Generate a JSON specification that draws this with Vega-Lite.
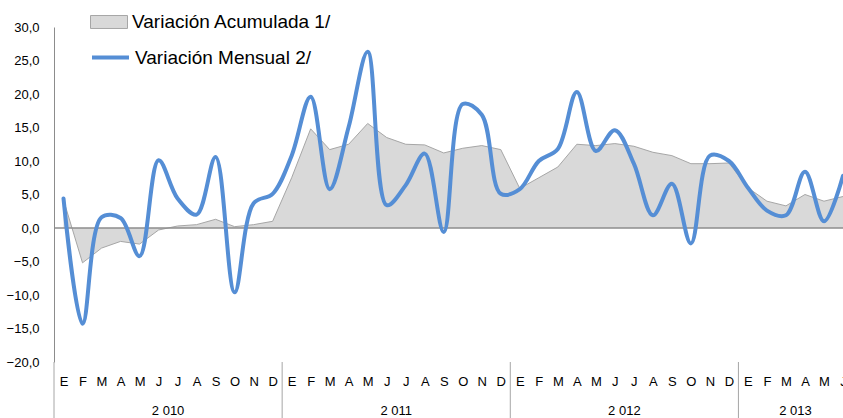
{
  "$schema": "https://vega.github.io/schema/vega-lite/v6.json",
  "autosize": {"type": "none"},
  "width": 789,
  "height": 335,
  "padding": {"left": 54, "top": 27, "right": 0, "bottom": 56},
  "background": "white",
  "config": {
    "font": "Liberation Sans",
    "view": {"stroke": null},
    "axis": {"labelOverlap": false, "labelBound": false, "labelFlush": false}
  },
  "datasets": {
    "series": [
      {"i": 0, "mon": 4.4, "cum": 4.2},
      {"i": 1, "mon": -14.3, "cum": -5.2},
      {"i": 2, "mon": 1.6, "cum": -3.0},
      {"i": 3, "mon": 1.5, "cum": -2.0},
      {"i": 4, "mon": -4.2, "cum": -2.4},
      {"i": 5, "mon": 10.1, "cum": -0.3},
      {"i": 6, "mon": 4.4, "cum": 0.3},
      {"i": 7, "mon": 2.0, "cum": 0.5},
      {"i": 8, "mon": 10.6, "cum": 1.3},
      {"i": 9, "mon": -9.6, "cum": 0.2},
      {"i": 10, "mon": 3.7, "cum": 0.5},
      {"i": 11, "mon": 5.1, "cum": 1.0},
      {"i": 12, "mon": 10.8, "cum": 7.5},
      {"i": 13, "mon": 19.6, "cum": 14.8},
      {"i": 14, "mon": 5.8, "cum": 11.7},
      {"i": 15, "mon": 15.1, "cum": 12.5},
      {"i": 16, "mon": 26.3, "cum": 15.6},
      {"i": 17, "mon": 3.4, "cum": 13.5},
      {"i": 18, "mon": 6.4, "cum": 12.5},
      {"i": 19, "mon": 11.1, "cum": 12.4},
      {"i": 20, "mon": -0.6, "cum": 11.2},
      {"i": 21, "mon": 18.5, "cum": 11.9},
      {"i": 22, "mon": 16.9, "cum": 12.3},
      {"i": 23, "mon": 5.1, "cum": 11.7},
      {"i": 24, "mon": 5.8, "cum": 5.9},
      {"i": 25, "mon": 10.0, "cum": 7.5},
      {"i": 26, "mon": 11.8, "cum": 9.1},
      {"i": 27, "mon": 20.3, "cum": 12.5},
      {"i": 28, "mon": 11.5, "cum": 12.3},
      {"i": 29, "mon": 14.6, "cum": 12.6},
      {"i": 30, "mon": 9.6, "cum": 12.2},
      {"i": 31, "mon": 1.9, "cum": 11.3},
      {"i": 32, "mon": 6.6, "cum": 10.8},
      {"i": 33, "mon": -2.3, "cum": 9.6},
      {"i": 34, "mon": 10.8, "cum": 9.6},
      {"i": 35, "mon": 10.0, "cum": 9.7},
      {"i": 36, "mon": 6.0, "cum": 6.0},
      {"i": 37, "mon": 2.6, "cum": 4.0},
      {"i": 38, "mon": 1.9, "cum": 3.3},
      {"i": 39, "mon": 8.4, "cum": 5.0},
      {"i": 40, "mon": 1.0, "cum": 4.0},
      {"i": 41, "mon": 7.8, "cum": 4.7}
    ],
    "years": [
      {"c": 5.5, "year": "2 010"},
      {"c": 17.5, "year": "2 011"},
      {"c": 29.5, "year": "2 012"},
      {"c": 38.5, "year": "2 013"}
    ],
    "bounds": [
      {"b": -0.5},
      {"b": 11.5},
      {"b": 23.5},
      {"b": 35.5}
    ]
  },
  "layer": [
    {
      "data": {"name": "series"},
      "mark": {"type": "area", "interpolate": "linear"},
      "encoding": {
        "x": {
          "field": "i", "type": "quantitative",
          "scale": {"domain": [-0.5, 41], "nice": false, "zero": false},
          "axis": {
            "title": null,
            "values": [0,1,2,3,4,5,6,7,8,9,10,11,12,13,14,15,16,17,18,19,20,21,22,23,24,25,26,27,28,29,30,31,32,33,34,35,36,37,38,39,40,41],
            "labelExpr": "['E','F','M','A','M','J','J','A','S','O','N','D'][datum.value % 12]",
            "domain": false, "ticks": false, "grid": false,
            "labelPadding": 13, "labelFontSize": 13, "labelColor": "#000000",
            "labelFlush": false, "labelOverlap": false, "labelBound": false,
            "labelFont": "Liberation Sans"
          }
        },
        "y": {
          "field": "cum", "type": "quantitative",
          "scale": {"domain": [-20, 30], "nice": false, "zero": false},
          "axis": {
            "title": null,
            "values": [-20, -15, -10, -5, 0, 5, 10, 15, 20, 25, 30],
            "labelExpr": "replace(format(datum.value, '.1f'), '.', ',')",
            "ticks": false, "grid": false,
            "domainColor": "#8c8c8c", "domainWidth": 1,
            "labelPadding": 15, "labelFontSize": 13, "labelColor": "#000000",
            "labelOverlap": false, "labelFlush": false, "labelBound": false,
            "labelFont": "Liberation Sans"
          }
        },
        "y2": {"datum": 0},
        "fill": {
          "datum": "Variación Acumulada 1/",
          "scale": {"range": ["#d9d9d9"]},
          "legend": {
            "orient": "none", "legendX": 36, "legendY": -24,
            "title": null, "padding": 0,
            "symbolType": "M-1,-0.35L1,-0.35L1,0.35L-1,0.35Z",
            "symbolSize": 1369,
            "symbolStrokeColor": "#a6a6a6", "symbolStrokeWidth": 1,
            "symbolOpacity": 1,
            "labelFontSize": 19, "labelColor": "#000000", "labelOffset": 4,
            "labelFont": "Liberation Sans", "labelLimit": 400
          }
        }
      }
    },
    {
      "data": {"name": "series"},
      "mark": {"type": "line", "interpolate": "linear", "stroke": "#a6a6a6", "strokeWidth": 1},
      "encoding": {
        "x": {
          "field": "i", "type": "quantitative",
          "axis": {
            "title": null,
            "values": [0,1,2,3,4,5,6,7,8,9,10,11,12,13,14,15,16,17,18,19,20,21,22,23,24,25,26,27,28,29,30,31,32,33,34,35,36,37,38,39,40,41],
            "labelExpr": "['E','F','M','A','M','J','J','A','S','O','N','D'][datum.value % 12]",
            "domain": false, "ticks": false, "grid": false,
            "labelPadding": 13, "labelFontSize": 13, "labelColor": "#000000",
            "labelFlush": false, "labelOverlap": false, "labelBound": false,
            "labelFont": "Liberation Sans"
          }
        },
        "y": {
          "field": "cum", "type": "quantitative",
          "axis": {
            "title": null,
            "values": [-20, -15, -10, -5, 0, 5, 10, 15, 20, 25, 30],
            "labelExpr": "replace(format(datum.value, '.1f'), '.', ',')",
            "ticks": false, "grid": false,
            "domainColor": "#8c8c8c", "domainWidth": 1,
            "labelPadding": 15, "labelFontSize": 13, "labelColor": "#000000",
            "labelOverlap": false, "labelFlush": false, "labelBound": false,
            "labelFont": "Liberation Sans"
          }
        }
      }
    },
    {
      "data": {"values": [{"z": 0}]},
      "mark": {"type": "rule", "color": "#8c8c8c", "strokeWidth": 1.3},
      "encoding": {
        "y": {
          "field": "z", "type": "quantitative",
          "axis": {
            "title": null,
            "values": [-20, -15, -10, -5, 0, 5, 10, 15, 20, 25, 30],
            "labelExpr": "replace(format(datum.value, '.1f'), '.', ',')",
            "ticks": false, "grid": false,
            "domainColor": "#8c8c8c", "domainWidth": 1,
            "labelPadding": 15, "labelFontSize": 13, "labelColor": "#000000",
            "labelOverlap": false, "labelFlush": false, "labelBound": false,
            "labelFont": "Liberation Sans"
          }
        }
      }
    },
    {
      "data": {"name": "bounds"},
      "mark": {"type": "rule", "color": "#a6a6a6", "strokeWidth": 1},
      "encoding": {
        "x": {
          "field": "b", "type": "quantitative",
          "axis": {
            "title": null,
            "values": [0,1,2,3,4,5,6,7,8,9,10,11,12,13,14,15,16,17,18,19,20,21,22,23,24,25,26,27,28,29,30,31,32,33,34,35,36,37,38,39,40,41],
            "labelExpr": "['E','F','M','A','M','J','J','A','S','O','N','D'][datum.value % 12]",
            "domain": false, "ticks": false, "grid": false,
            "labelPadding": 13, "labelFontSize": 13, "labelColor": "#000000",
            "labelFlush": false, "labelOverlap": false, "labelBound": false,
            "labelFont": "Liberation Sans"
          }
        },
        "y": {
          "datum": -20, "type": "quantitative",
          "axis": {
            "title": null,
            "values": [-20, -15, -10, -5, 0, 5, 10, 15, 20, 25, 30],
            "labelExpr": "replace(format(datum.value, '.1f'), '.', ',')",
            "ticks": false, "grid": false,
            "domainColor": "#8c8c8c", "domainWidth": 1,
            "labelPadding": 15, "labelFontSize": 13, "labelColor": "#000000",
            "labelOverlap": false, "labelFlush": false, "labelBound": false,
            "labelFont": "Liberation Sans"
          }
        },
        "y2": {"datum": -28.5}
      }
    },
    {
      "data": {"name": "years"},
      "mark": {"type": "text", "fontSize": 13, "color": "#000000", "baseline": "alphabetic", "align": "center", "font": "Liberation Sans"},
      "encoding": {
        "x": {
          "field": "c", "type": "quantitative",
          "axis": {
            "title": null,
            "values": [0,1,2,3,4,5,6,7,8,9,10,11,12,13,14,15,16,17,18,19,20,21,22,23,24,25,26,27,28,29,30,31,32,33,34,35,36,37,38,39,40,41],
            "labelExpr": "['E','F','M','A','M','J','J','A','S','O','N','D'][datum.value % 12]",
            "domain": false, "ticks": false, "grid": false,
            "labelPadding": 13, "labelFontSize": 13, "labelColor": "#000000",
            "labelFlush": false, "labelOverlap": false, "labelBound": false,
            "labelFont": "Liberation Sans"
          }
        },
        "y": {
          "datum": -27.9, "type": "quantitative",
          "axis": {
            "title": null,
            "values": [-20, -15, -10, -5, 0, 5, 10, 15, 20, 25, 30],
            "labelExpr": "replace(format(datum.value, '.1f'), '.', ',')",
            "ticks": false, "grid": false,
            "domainColor": "#8c8c8c", "domainWidth": 1,
            "labelPadding": 15, "labelFontSize": 13, "labelColor": "#000000",
            "labelOverlap": false, "labelFlush": false, "labelBound": false,
            "labelFont": "Liberation Sans"
          }
        },
        "text": {"field": "year"}
      }
    },
    {
      "data": {"name": "series"},
      "mark": {"type": "line", "interpolate": "catmull-rom", "strokeWidth": 4, "strokeCap": "round"},
      "encoding": {
        "x": {
          "field": "i", "type": "quantitative",
          "axis": {
            "title": null,
            "values": [0,1,2,3,4,5,6,7,8,9,10,11,12,13,14,15,16,17,18,19,20,21,22,23,24,25,26,27,28,29,30,31,32,33,34,35,36,37,38,39,40,41],
            "labelExpr": "['E','F','M','A','M','J','J','A','S','O','N','D'][datum.value % 12]",
            "domain": false, "ticks": false, "grid": false,
            "labelPadding": 13, "labelFontSize": 13, "labelColor": "#000000",
            "labelFlush": false, "labelOverlap": false, "labelBound": false,
            "labelFont": "Liberation Sans"
          }
        },
        "y": {
          "field": "mon", "type": "quantitative",
          "axis": {
            "title": null,
            "values": [-20, -15, -10, -5, 0, 5, 10, 15, 20, 25, 30],
            "labelExpr": "replace(format(datum.value, '.1f'), '.', ',')",
            "ticks": false, "grid": false,
            "domainColor": "#8c8c8c", "domainWidth": 1,
            "labelPadding": 15, "labelFontSize": 13, "labelColor": "#000000",
            "labelOverlap": false, "labelFlush": false, "labelBound": false,
            "labelFont": "Liberation Sans"
          }
        },
        "stroke": {
          "datum": "Variación Mensual 2/",
          "scale": {"range": ["#558ed5"]},
          "legend": {
            "orient": "none", "legendX": 36, "legendY": 10,
            "title": null, "padding": 0,
            "symbolType": "stroke",
            "symbolSize": 1369,
            "symbolStrokeWidth": 4,
            "labelFontSize": 19, "labelColor": "#000000", "labelOffset": 4,
            "labelFont": "Liberation Sans", "labelLimit": 400
          }
        }
      }
    }
  ]
}
